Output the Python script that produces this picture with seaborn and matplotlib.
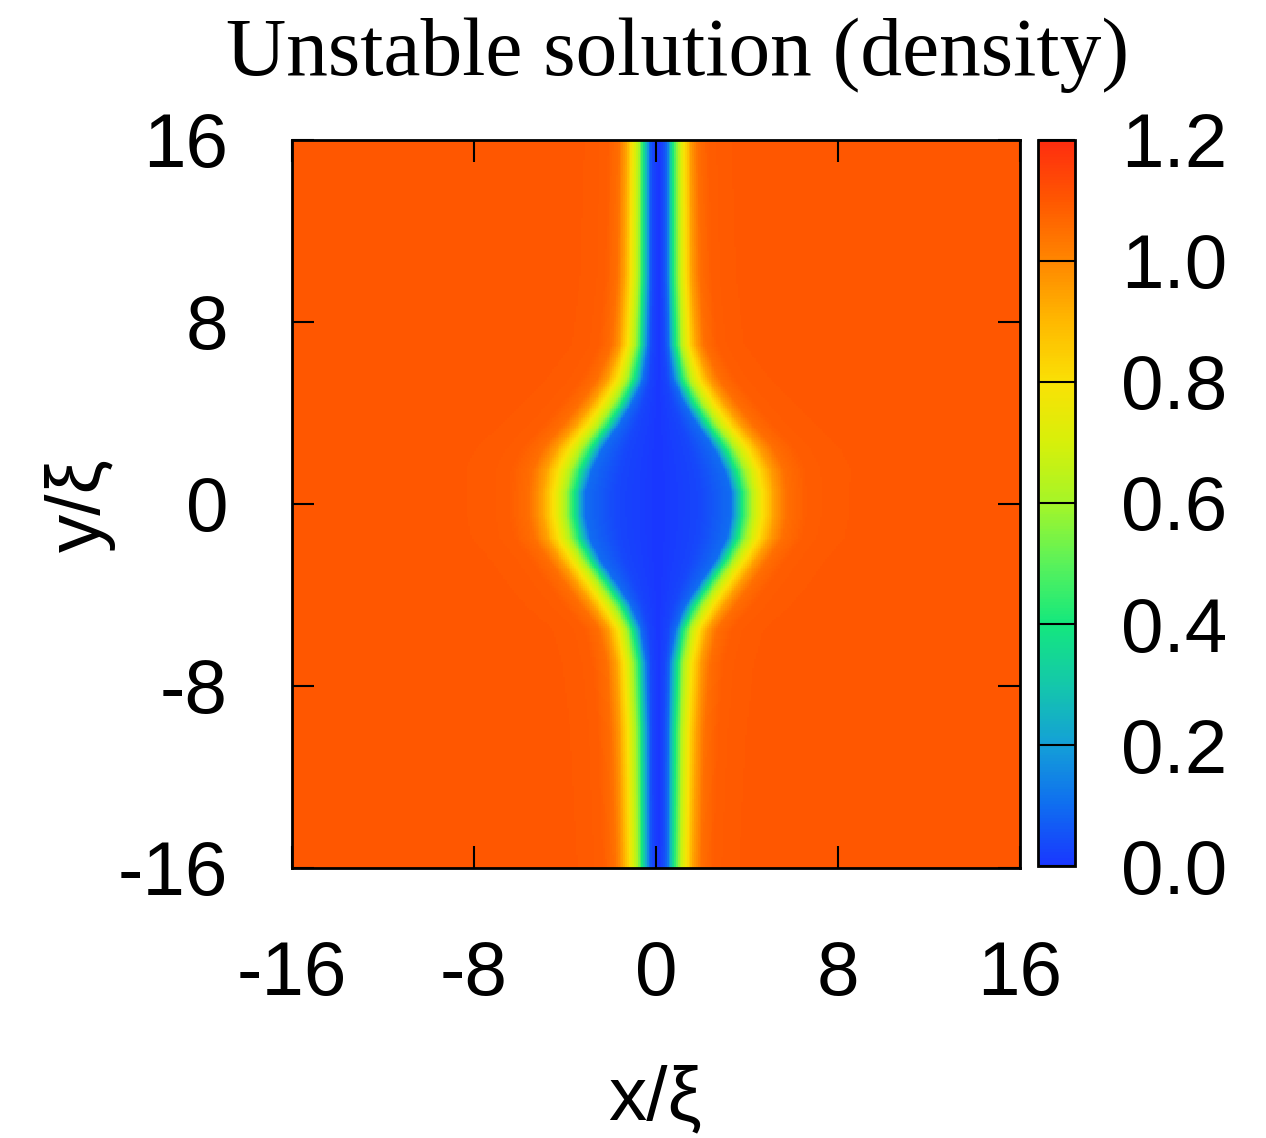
import matplotlib

matplotlib.use("Agg")

import matplotlib.pyplot as plt
import numpy as np
import pandas as pd
import seaborn as sns
from matplotlib.colors import LinearSegmentedColormap

# cross-section of the narrow dark stripe: distance from its centre (in xi) -> density
profile_dist = [0.0, 0.2, 0.35, 0.5, 0.7, 0.9, 1.2, 1.5, 1.85, 2.4, 4.0]
profile_density = [0.0, 0.03, 0.10, 0.25, 0.45, 0.62, 0.80, 0.95, 1.05, 1.09, 1.10]

# half-widths of the depleted region read along y (blue edge ~0.1, yellow edge ~0.8)
y_rows = [16, 10, 7, 5.5, 4.5, 3.5, 2.5, 1.5, 0.5, -0.5, -1.5, -2.5, -3.5, -4.5, -5.5, -7, -10, -16]
blue_halfwidth = [0.38, 0.38, 0.45, 0.65, 1.1, 1.7, 2.4, 2.9, 3.2, 3.2, 3.0, 2.5, 1.8, 1.15, 0.75, 0.5, 0.42, 0.4]
yellow_halfwidth = [1.15, 1.2, 1.35, 1.8, 2.4, 3.1, 3.9, 4.4, 4.6, 4.6, 4.4, 3.8, 3.1, 2.4, 1.8, 1.5, 1.35, 1.25]
stripe_center = 0.1

tick_values = [-16, -8, 0, 8, 16]
cbar_ticks = [0.0, 0.2, 0.4, 0.6, 0.8, 1.0, 1.2]
title = "Unstable solution (density)"

# colour map like the gnuplot palette
cmap_nodes = [
    (0.0, (25, 55, 255)), (0.1, (15, 110, 240)), (0.2, (20, 160, 215)),
    (0.3, (20, 200, 170)), (0.4, (20, 232, 125)), (0.5, (90, 242, 90)),
    (0.6, (165, 245, 40)), (0.7, (215, 240, 10)), (0.8, (250, 225, 5)),
    (0.9, (255, 185, 0)), (1.0, (255, 135, 0)), (1.1, (255, 88, 0)),
    (1.2, (255, 45, 15)),
]
cmap = LinearSegmentedColormap.from_list(
    "dens", [(v / 1.2, tuple(c / 255 for c in rgb)) for v, rgb in cmap_nodes]
)

# build density grid (rows from top y=16 to bottom y=-16)
n = 400
centers = -16 + (np.arange(n) + 0.5) * 32 / n
ys = centers[::-1]
yr = np.array(y_rows)[::-1]
bw = np.interp(ys, yr, np.array(blue_halfwidth)[::-1])[:, None]
yw = np.interp(ys, yr, np.array(yellow_halfwidth)[::-1])[:, None]
d = np.abs(centers[None, :] - stripe_center)
b0, y0 = profile_dist[2], profile_dist[6]
s = np.where(d < bw, d * b0 / bw, b0 + (d - bw) * (y0 - b0) / (yw - bw))
density = np.interp(s, profile_dist, profile_density)
grid = pd.DataFrame(density, index=np.round(ys, 3), columns=np.round(centers, 3))

sns.set_style("ticks")
plt.rcParams["font.family"] = ["Liberation Sans", "DejaVu Sans"]
plt.rcParams["text.color"] = "black"
plt.rcParams["xtick.color"] = "black"
plt.rcParams["ytick.color"] = "black"

fig = plt.figure(figsize=(12.66, 11.38), dpi=100)
ax = fig.add_axes([0.2306, 0.2373, 0.5750, 0.6397])
cax = fig.add_axes([0.8199, 0.2390, 0.0292, 0.6380])

sns.heatmap(grid, ax=ax, cmap=cmap, vmin=0, vmax=1.2, cbar_ax=cax,
            xticklabels=False, yticklabels=False, rasterized=True)

ax.set_axisbelow(False)
ax.set_xticks([(v + 16) / 32 * n for v in tick_values])
ax.set_xticklabels([str(v) for v in tick_values])
ax.set_yticks([(16 - v) / 32 * n for v in tick_values])
ax.set_yticklabels([str(v) for v in tick_values], rotation=0)
ax.set_xlabel("")
ax.set_ylabel("")
for sp in ax.spines.values():
    sp.set_visible(True)
    sp.set_linewidth(2)
    sp.set_color("black")
ax.tick_params(direction="in", length=16, width=1.5, color="black", labelcolor="black",
               top=True, right=True, labelsize=55)
ax.tick_params(axis="x", pad=52)
ax.tick_params(axis="y", pad=46)

cb = ax.collections[0].colorbar
cb.set_ticks(cbar_ticks)
cb.set_ticklabels([f"{v:.1f}" for v in cbar_ticks])
cb.outline.set_linewidth(2)
cb.outline.set_edgecolor("black")
cax.set_axisbelow(False)
cax.tick_params(direction="in", length=27, width=1.5, color="black", labelcolor="black",
                labelsize=55, pad=33)

fig.text(0.5355, 0.934, title, ha="center", va="baseline",
         family="Liberation Serif", fontsize=60)
fig.text(0.0632, 0.5562, "y/ξ", rotation=90, ha="center", va="center", fontsize=55)
fig.text(0.517, 0.016, "x/ξ", ha="center", va="baseline", fontsize=55)

fig.savefig("out.png", dpi=100)
